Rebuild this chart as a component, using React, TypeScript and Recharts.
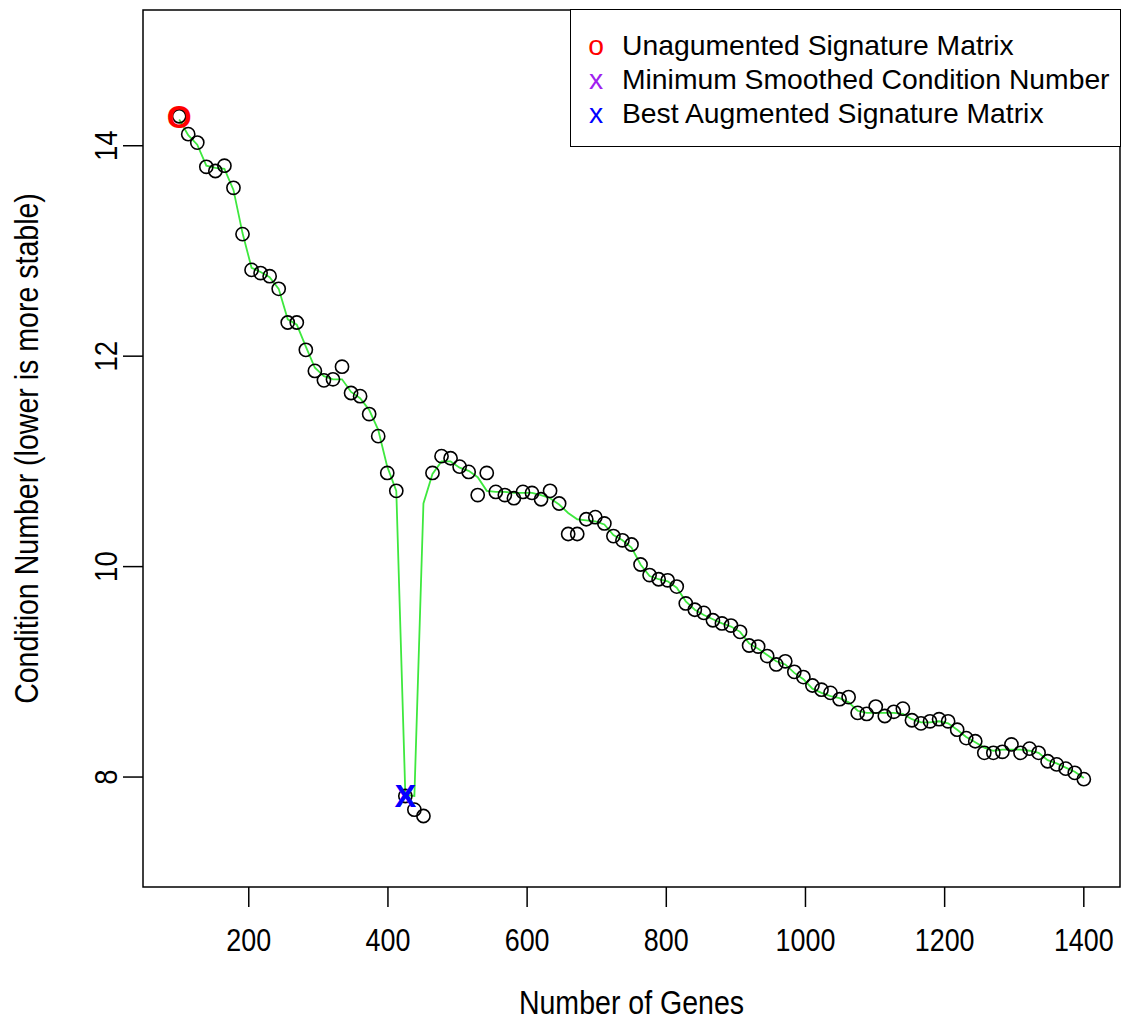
import React from 'react';
import { ComposedChart, Scatter, Line, XAxis, YAxis, ReferenceArea } from 'recharts';

const geneCounts = [
  100, 113, 126, 139, 152, 165, 178, 191, 204, 217,
  230, 243, 256, 269, 282, 295, 308, 321, 334, 347,
  360, 373, 386, 399, 412, 425, 438, 451, 464, 477,
  490, 503, 516, 529, 542, 555, 568, 581, 594, 607,
  620, 633, 646, 659, 672, 685, 698, 711, 724, 737,
  750, 763, 776, 789, 802, 815, 828, 841, 854, 867,
  880, 893, 906, 919, 932, 945, 958, 971, 984, 997,
  1010, 1023, 1036, 1049, 1062, 1075, 1088, 1101, 1114, 1127,
  1140, 1153, 1166, 1179, 1192, 1205, 1218, 1231, 1244, 1257,
  1270, 1283, 1296, 1309, 1322, 1335, 1348, 1361, 1374, 1387,
  1400,
];

const conditionNumbers = [
  14.28, 14.11, 14.03, 13.80, 13.76, 13.81, 13.60, 13.16, 12.82, 12.79,
  12.76, 12.64, 12.32, 12.32, 12.06, 11.86, 11.77, 11.78, 11.90, 11.65,
  11.62, 11.45, 11.24, 10.89, 10.72, 7.82, 7.69, 7.63, 10.89, 11.05,
  11.03, 10.95, 10.90, 10.68, 10.89, 10.71, 10.68, 10.65, 10.71, 10.70,
  10.64, 10.72, 10.60, 10.31, 10.31, 10.45, 10.47, 10.41, 10.29, 10.25,
  10.21, 10.02, 9.92, 9.88, 9.87, 9.81, 9.65, 9.59, 9.56, 9.49,
  9.46, 9.44, 9.38, 9.25, 9.24, 9.15, 9.07, 9.10, 9.00, 8.95,
  8.87, 8.83, 8.80, 8.74, 8.76, 8.61, 8.60, 8.67, 8.58, 8.62,
  8.65, 8.54, 8.51, 8.53, 8.55, 8.53, 8.45, 8.37, 8.34, 8.23,
  8.23, 8.24, 8.31, 8.23, 8.27, 8.23, 8.15, 8.12, 8.08, 8.04,
  7.98,
];

const smoothedCondition = [
  14.25, 14.10, 14.01, 13.81, 13.79, 13.78, 13.58, 13.17, 12.84, 12.80,
  12.75, 12.64, 12.35, 12.30, 12.09, 11.89, 11.81, 11.78, 11.78, 11.66,
  11.60, 11.49, 11.30, 10.95, 10.72, 7.83, 7.82, 10.60, 10.88, 11.00,
  11.00, 10.94, 10.91, 10.85, 10.72, 10.71, 10.71, 10.70, 10.70, 10.70,
  10.68, 10.65, 10.59, 10.51, 10.45, 10.44, 10.43, 10.40, 10.30, 10.25,
  10.18, 10.02, 9.91, 9.88, 9.86, 9.80, 9.67, 9.59, 9.54, 9.50,
  9.46, 9.43, 9.38, 9.27, 9.22, 9.16, 9.10, 9.07, 8.99, 8.93,
  8.84, 8.80, 8.77, 8.75, 8.71, 8.63, 8.61, 8.61, 8.61, 8.61,
  8.60, 8.55, 8.52, 8.52, 8.53, 8.51, 8.45, 8.38, 8.33, 8.28,
  8.25, 8.26, 8.26, 8.26, 8.25, 8.23, 8.16, 8.13, 8.09, 8.05,
  7.99,
];

const xTicks = [200, 400, 600, 800, 1000, 1200, 1400];
const yTicks = [8, 10, 12, 14];
const xDomain: [number, number] = [48, 1452];
const yDomain: [number, number] = [6.955, 15.29];

const unaugmentedPoint = [{ x: 100, y: 14.28 }];
const minSmoothedPoint = [{ x: 425, y: 7.82 }];
const bestAugmentedPoint = [{ x: 425, y: 7.82 }];

const legendItems = [
  { symbol: 'o', color: '#ff0000', label: 'Unagumented Signature Matrix' },
  { symbol: 'x', color: '#a020f0', label: 'Minimum Smoothed Condition Number' },
  { symbol: 'x', color: '#0000ff', label: 'Best Augmented Signature Matrix' },
];

const data = geneCounts.map((x, i) => ({
  x,
  cond: conditionNumbers[i],
  smooth: smoothedCondition[i],
}));

const FONT = '"Liberation Sans", Arial, Helvetica, sans-serif';

const XTick = (props: any) => {
  const { x, y, payload } = props;
  return (
    <g transform={`translate(${x},${y})`}>
      <text x={0} y={0} dy={42} textAnchor="middle" fontSize={32} fontFamily={FONT} fill="#000" transform="scale(0.84,1)">
        {payload.value}
      </text>
    </g>
  );
};

const YTick = (props: any) => {
  const { x, y, payload } = props;
  return (
    <g transform={`translate(${x - 4.5},${y}) rotate(-90)`}>
      <text x={0} y={0} textAnchor="middle" fontSize={32} fontFamily={FONT} fill="#000" transform="scale(0.86,1)">
        {payload.value}
      </text>
    </g>
  );
};

const XTitle = (props: any) => {
  const vb = props.viewBox || { x: 143, y: 887, width: 977, height: 134 };
  const cx = vb.x + vb.width / 2;
  return (
    <g transform={`translate(${cx},${vb.y + 127})`}>
      <text x={0} y={0} textAnchor="middle" fontSize={34} fontFamily={FONT} fill="#000" transform="scale(0.84,1)">
        Number of Genes
      </text>
    </g>
  );
};

const YTitle = (props: any) => {
  const vb = props.viewBox || { x: 0, y: 10, width: 143, height: 877 };
  const cy = vb.y + vb.height / 2;
  return (
    <g transform={`translate(${vb.x + 38},${cy}) rotate(-90)`}>
      <text x={0} y={0} textAnchor="middle" fontSize={34} fontFamily={FONT} fill="#000" transform="scale(0.84,1)">
        Condition Number (lower is more stable)
      </text>
    </g>
  );
};

const CircleShape = (props: any) => {
  const { cx, cy } = props;
  if (cx == null || cy == null) return null;
  return <circle cx={cx} cy={cy} r={6.6} fill="none" stroke="#000" strokeWidth={1.6} />;
};

const makeGlyph = (glyph: string, color: string) => (props: any) => {
  const { cx, cy } = props;
  if (cx == null || cy == null) return null;
  return (
    <text x={cx} y={cy + 11.5} textAnchor="middle" fontSize={32} fontWeight="bold" fontFamily={FONT} fill={color}>
      {glyph}
    </text>
  );
};

const RedO = makeGlyph('O', '#ff0000');
const PurpleX = makeGlyph('X', '#a020f0');
const BlueX = makeGlyph('X', '#0000ff');

export default function App() {
  return (
    <div style={{ position: 'absolute', left: 0, top: 0, width: 1134, height: 1021, background: '#fff', overflow: 'hidden' }}>
      <ComposedChart width={1134} height={1021} data={data} margin={{ top: 10, right: 14, bottom: 0, left: 0 }}>
        <XAxis
          type="number"
          dataKey="x"
          domain={xDomain}
          ticks={xTicks}
          interval={0}
          allowDataOverflow
          height={134}
          tickSize={20}
          axisLine={false}
          tickLine={{ stroke: '#000', strokeWidth: 1.5 }}
          tick={<XTick />}
          label={<XTitle />}
        />
        <YAxis
          type="number"
          domain={yDomain}
          ticks={yTicks}
          interval={0}
          allowDataOverflow
          width={143}
          tickSize={20}
          axisLine={false}
          tickLine={{ stroke: '#000', strokeWidth: 1.5 }}
          tick={<YTick />}
          label={<YTitle />}
        />
        <ReferenceArea
          x1={xDomain[0]}
          x2={xDomain[1]}
          y1={yDomain[0]}
          y2={yDomain[1]}
          fill="none"
          fillOpacity={0}
          stroke="#000"
          strokeWidth={1.5}
          ifOverflow="visible"
        />
        <Scatter dataKey="cond" shape={CircleShape} isAnimationActive={false} />
        <Line dataKey="smooth" type="linear" stroke="#3ee83e" strokeWidth={1.8} dot={false} activeDot={false} isAnimationActive={false} />
        <Scatter data={unaugmentedPoint} dataKey="y" shape={RedO} isAnimationActive={false} />
        <Scatter data={minSmoothedPoint} dataKey="y" shape={PurpleX} isAnimationActive={false} />
        <Scatter data={bestAugmentedPoint} dataKey="y" shape={BlueX} isAnimationActive={false} />
      </ComposedChart>
      <div
        style={{
          position: 'absolute',
          left: 570,
          top: 9,
          width: 551,
          height: 138,
          boxSizing: 'border-box',
          border: '1.5px solid #000',
          background: '#fff',
          paddingTop: 18,
          fontFamily: FONT,
          fontSize: 28.3,
          color: '#000',
        }}
      >
        {legendItems.map((item) => (
          <div key={item.label} style={{ position: 'relative', height: 34, lineHeight: '34px', whiteSpace: 'nowrap' }}>
            <span style={{ position: 'absolute', left: 14, width: 22, textAlign: 'center', color: item.color }}>{item.symbol}</span>
            <span style={{ position: 'absolute', left: 51 }}>{item.label}</span>
          </div>
        ))}
      </div>
    </div>
  );
}
